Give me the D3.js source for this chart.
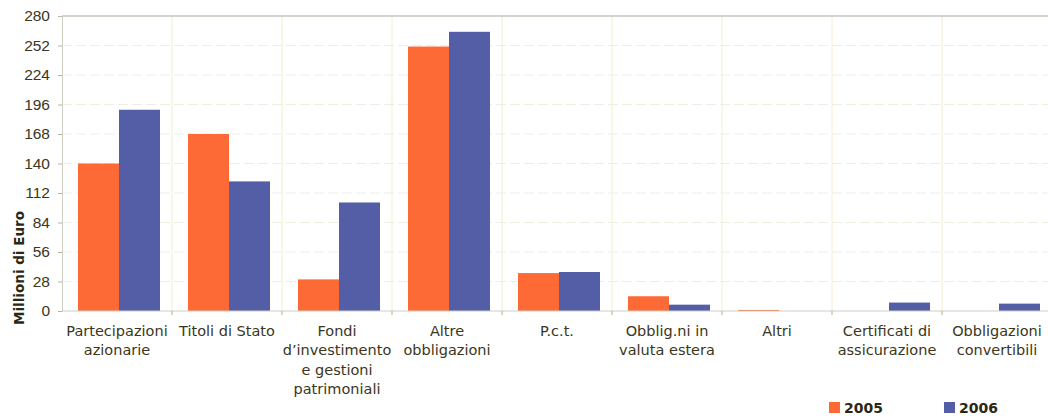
<!DOCTYPE html>
<html>
<head>
<meta charset="utf-8">
<script src="https://cdn.jsdelivr.net/npm/d3@7"></script>
<style>
  body { margin: 0; background: #fff; }
  svg { display: block; font-family: 'DejaVu Sans', sans-serif; }
  .tick-lbl { font-size: 15.5px; fill: #3b3620; }
  .cat-lbl { font-size: 14.5px; fill: #3b3620; }
  .ytitle { font-size: 13.5px; font-weight: bold; fill: #2a2714; }
  .leg { font-size: 14px; font-weight: bold; fill: #2a2714; }
</style>
</head>
<body>
<svg id="chart"></svg>
<script>
const categories = [
  ['Partecipazioni', 'azionarie'],
  ['Titoli di Stato'],
  ['Fondi', 'd\u2019investimento', 'e gestioni', 'patrimoniali'],
  ['Altre', 'obbligazioni'],
  ['P.c.t.'],
  ['Obblig.ni in', 'valuta estera'],
  ['Altri'],
  ['Certificati di', 'assicurazione'],
  ['Obbligazioni', 'convertibili']
]
const values2005 = [140, 168, 30, 251, 36, 14, 1, 0, 0]
const values2006 = [191, 123, 103, 265, 37, 6, 0, 8, 7]
const yTicks = [0, 28, 56, 84, 112, 140, 168, 196, 224, 252, 280]
const seriesNames = ['2005', '2006']
const colors = ['#fd6a36', '#535ea6']

const width = 1048
const height = 418
const margin = { left: 62, top: 16, bottom: 107 }
const plotW = 990

const svg = d3.select('#chart')
    .attr('width', width)
    .attr('height', height)

const x = d3.scaleBand()
    .domain(d3.range(categories.length))
    .range([margin.left, margin.left + plotW])

const y = d3.scaleLinear()
    .domain([0, 280])
    .range([height - margin.bottom, margin.top])

// horizontal grid
svg.append('g')
    .selectAll('line')
    .data(yTicks.slice(1, -1))
    .enter()
    .append('line')
    .attr('x1', margin.left)
    .attr('x2', margin.left + plotW)
    .attr('y1', d => y(d))
    .attr('y2', d => y(d))
    .attr('stroke', '#efeee2')
    .attr('stroke-dasharray', '10,4')

// vertical separators
svg.append('g')
    .selectAll('line')
    .data(d3.range(1, categories.length))
    .enter()
    .append('line')
    .attr('x1', d => x(d))
    .attr('x2', d => x(d))
    .attr('y1', y(280))
    .attr('y2', y(0) + 4)
    .attr('stroke', '#f5eecb')

// top border
svg.append('line')
    .attr('x1', margin.left)
    .attr('x2', width)
    .attr('y1', y(280))
    .attr('y2', y(280))
    .attr('stroke', '#a9a89c')
    .attr('stroke-width', 1.2)

// bars
const sub = d3.scaleBand()
    .domain([0, 1])
    .range([16, 98])

const series = [values2005, values2006]
series.forEach((vals, s) => {
  svg.append('g')
    .selectAll('rect')
    .data(vals)
    .enter()
    .append('rect')
    .attr('x', (d, i) => x(i) + sub(s))
    .attr('width', sub.bandwidth())
    .attr('y', d => y(d))
    .attr('height', d => y(0) - y(d))
    .attr('fill', colors[s])
})

// y axis
const yAxis = svg.append('g')
    .attr('transform', `translate(${margin.left},0)`)
    .call(d3.axisLeft(y).tickValues(yTicks).tickSize(4).tickPadding(8))
yAxis.select('.domain').attr('stroke', '#cfcec2')
yAxis.selectAll('.tick line').attr('stroke', '#b5b4a8')
yAxis.selectAll('.tick text').attr('class', 'tick-lbl').attr('font-family', null).attr('font-size', null)

// x baseline
const xAxis = svg.append('g')
    .attr('transform', `translate(0,${y(0)})`)
xAxis.append('line')
    .attr('x1', margin.left)
    .attr('x2', margin.left + plotW)
    .attr('stroke', '#cfcec2')
xAxis.selectAll('.xt')
    .data(d3.range(1, categories.length))
    .enter()
    .append('line')
    .attr('x1', d => x(d))
    .attr('x2', d => x(d))
    .attr('y1', 0)
    .attr('y2', 4)
    .attr('stroke', '#b5b4a8')

// category labels
const labels = svg.append('g')
    .selectAll('text')
    .data(categories)
    .enter()
    .append('text')
    .attr('class', 'cat-lbl')
    .attr('text-anchor', 'middle')
    .attr('x', (d, i) => x(i) + x.bandwidth() / 2)
    .attr('y', y(0) + 25)

labels.selectAll('tspan')
    .data(d => d)
    .enter()
    .append('tspan')
    .attr('x', function () { return d3.select(this.parentNode).attr('x') })
    .attr('dy', (d, i) => i === 0 ? 0 : 19.3)
    .text(d => d)

// y title
svg.append('text')
    .attr('class', 'ytitle')
    .attr('text-anchor', 'middle')
    .attr('transform', `translate(24,268) rotate(-90)`)
    .text('Millioni di Euro')

// legend
const leg = svg.append('g')
    .selectAll('g')
    .data(seriesNames)
    .enter()
    .append('g')
    .attr('transform', (d, i) => `translate(${829 + i * 115},402)`)
leg.append('rect')
    .attr('width', 11)
    .attr('height', 11)
    .attr('fill', (d, i) => colors[i])
leg.append('text')
    .attr('class', 'leg')
    .attr('x', 15)
    .attr('y', 11)
    .text(d => d)
</script>
</body>
</html>
